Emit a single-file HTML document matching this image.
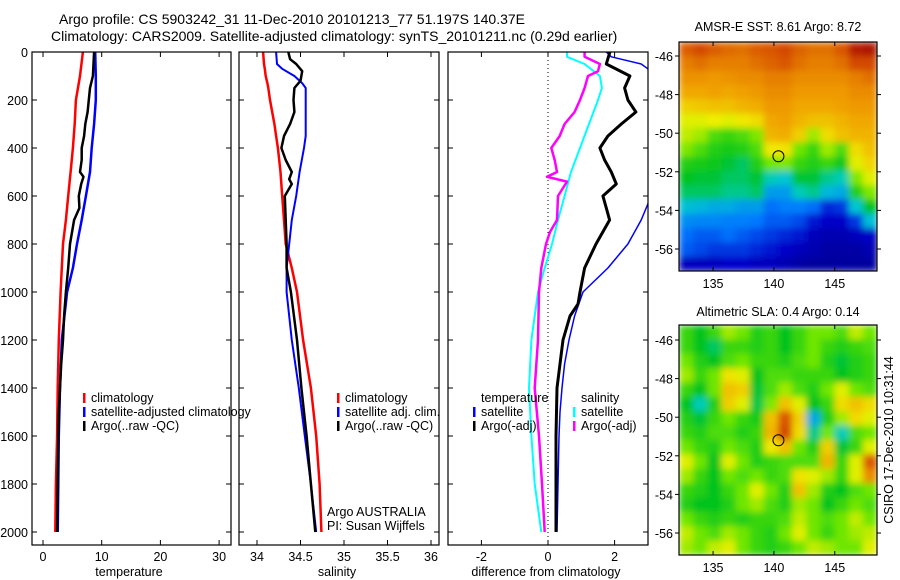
<!DOCTYPE html>
<html><head><meta charset="utf-8"><style>
body{margin:0;background:#fff;width:900px;height:580px;overflow:hidden}
svg{display:block;font-family:"Liberation Sans",sans-serif}
</style></head><body>
<svg id="fig" width="900" height="580" viewBox="0 0 900 580" xmlns="http://www.w3.org/2000/svg">
<defs>
<filter id="blur1" filterUnits="userSpaceOnUse" x="679" y="42" width="198" height="229"><feGaussianBlur stdDeviation="3.5" edgeMode="duplicate"/></filter>
<filter id="blur2" filterUnits="userSpaceOnUse" x="679" y="325" width="198" height="230"><feGaussianBlur stdDeviation="3.5" edgeMode="duplicate"/></filter>
<clipPath id="c1"><rect x="32" y="52" width="199" height="493"/></clipPath>
<clipPath id="c2"><rect x="239" y="52" width="200" height="493"/></clipPath>
<clipPath id="c3"><rect x="448" y="52" width="200" height="493"/></clipPath>
<clipPath id="m1"><rect x="679" y="42" width="198" height="229"/></clipPath>
<clipPath id="m2"><rect x="679" y="325" width="198" height="230"/></clipPath>
</defs>
<text x="59" y="24" font-size="14">Argo profile: CS 5903242_31 11-Dec-2010 20101213_77 51.197S 140.37E</text>
<text x="51" y="41" font-size="14">Climatology: CARS2009. Satellite-adjusted climatology: synTS_20101211.nc (0.29d earlier)</text>
<text x="778" y="31" font-size="12.5" text-anchor="middle">AMSR-E SST: 8.61  Argo: 8.72</text>
<text x="778" y="316" font-size="12.5" text-anchor="middle">Altimetric SLA: 0.4  Argo: 0.14</text>
<text transform="translate(893,440) rotate(-90)" font-size="12.5" text-anchor="middle">CSIRO 17-Dec-2010 10:31:44</text>
<g id="g"></g>
</svg>
<script>
// ---- profile data ----
const depthsT = [0,100,200,300,400,500,600,700,800,900,1000,1200,1400,1600,1800,2000];
const tempClim = [6.8,6.3,5.6,5.4,5.1,4.7,4.3,3.9,3.4,3.2,3.0,2.7,2.5,2.4,2.2,2.1];
const tempSat  = [8.9,9.0,9.0,8.7,8.3,8.0,7.3,6.6,5.8,5.1,4.1,3.2,2.9,2.7,2.6,2.5];
const depthsA = [0,50,100,150,200,250,300,350,400,450,500,520,550,600,650,700,800,900,1000,1100,1200,1300,1400,1500,1600,1800,2000];
const tempArgo = [8.7,8.6,8.5,8.0,7.8,7.6,7.2,7.0,6.6,6.6,6.3,6.9,6.5,6.1,6.2,5.3,4.6,4.3,3.9,3.6,3.4,3.1,2.9,2.7,2.6,2.5,2.4];
const depthsS = [0,50,70,100,130,150,200,300,350,400,500,600,700,800,900,1000,1200,1400,1600,1800,2000];
const salClim = [34.07,34.08,34.09,34.10,34.12,34.13,34.15,34.20,34.22,34.24,34.27,34.29,34.31,34.33,34.40,34.46,34.53,34.62,34.68,34.72,34.74];
const salSat  = [34.22,34.23,34.29,34.43,34.52,34.56,34.56,34.56,34.56,34.54,34.49,34.45,34.40,34.37,34.34,34.34,34.40,34.48,34.55,34.62,34.68];
const depthsSA = [0,30,50,80,120,150,200,250,300,350,400,450,500,530,550,600,700,800,900,1000,1200,1400,1600,1800,2000];
const salArgo = [34.36,34.38,34.45,34.52,34.50,34.43,34.42,34.43,34.38,34.31,34.28,34.33,34.40,34.37,34.40,34.32,34.33,34.34,34.34,34.39,34.46,34.51,34.57,34.62,34.67];
const depthsD = [0,20,50,70,100,200,300,400,500,600,700,800,900,1000,1100,1200,1300,1400,1500,1600,1800,2000];
const diffTSat = [1.75,1.9,2.8,3.0,3.6,4.0,4.2,4.2,4.0,3.1,2.8,2.4,1.8,1.05,0.8,0.63,0.5,0.42,0.36,0.33,0.3,0.27];
const depthsDA = [0,50,100,150,200,250,300,350,400,450,500,550,600,650,700,800,900,1000,1050,1100,1200,1400,1600,1800,2000];
const diffTArgo = [1.86,1.75,2.46,2.3,2.4,2.64,2.2,1.8,1.56,1.7,1.9,2.05,1.65,1.75,1.85,1.44,1.1,0.96,0.9,0.66,0.45,0.27,0.24,0.24,0.24];
const depthsDS = [0,20,50,100,150,200,300,400,500,600,700,800,900,1000,1200,1400,1600,1800,2000];
const diffSSat = [0.57,0.57,1.1,1.56,1.62,1.5,1.23,0.96,0.69,0.5,0.3,0.12,-0.1,-0.3,-0.5,-0.57,-0.5,-0.4,-0.2];
const depthsDM = [0,20,50,80,100,150,200,250,300,350,400,450,500,520,540,600,700,750,800,900,1000,1200,1400,1600,1800,2000];
const diffSArgo = [1.1,1.1,1.56,1.5,1.2,1.1,0.96,0.8,0.5,0.35,0.1,0.2,0.27,-0.03,0.57,0.3,0.27,0.06,-0.06,-0.2,-0.27,-0.3,-0.4,-0.27,-0.18,-0.1];
const depthTicks = [0,200,400,600,800,1000,1200,1400,1600,1800,2000];
const tempTicks = [0,10,20,30];
const salTicks = [34,34.5,35,35.5,36];
const salTickLabels = ["34","34.5","35","35.5","36"];
const diffTicks = [-2,0,2];
// ---- map data (colormap index 0..1) ----
const lonTicks = [135,140,145];
const latTicks = [-46,-48,-50,-52,-54,-56];
const argoLon = 140.37, argoLat = -51.197;
const sstGrid = [
[.85,.88,.85,.83,.82,.85,.86,.88,.84,.82,.82,.86,.95,.97],
[.80,.82,.80,.80,.80,.82,.84,.86,.82,.80,.80,.82,.88,.88],
[.77,.77,.76,.77,.78,.78,.80,.80,.78,.78,.78,.78,.80,.82],
[.74,.74,.75,.74,.75,.76,.78,.78,.76,.76,.76,.76,.78,.78],
[.68,.69,.70,.70,.72,.73,.76,.76,.74,.74,.74,.75,.76,.76],
[.62,.62,.63,.62,.64,.66,.74,.75,.72,.70,.70,.72,.74,.74],
[.60,.58,.52,.50,.52,.56,.72,.73,.68,.58,.66,.70,.72,.72],
[.56,.52,.48,.47,.48,.52,.64,.65,.55,.50,.58,.52,.66,.70],
[.48,.47,.46,.44,.42,.48,.55,.56,.50,.48,.50,.46,.62,.67],
[.45,.44,.44,.42,.42,.44,.38,.36,.44,.44,.40,.38,.56,.62],
[.42,.42,.42,.40,.40,.42,.30,.30,.38,.40,.34,.32,.48,.56],
[.35,.34,.32,.32,.30,.30,.24,.26,.26,.24,.16,.18,.36,.45],
[.28,.27,.27,.26,.26,.25,.22,.22,.20,.14,.12,.12,.18,.35],
[.24,.22,.22,.24,.22,.20,.18,.16,.14,.10,.08,.08,.10,.12],
[.22,.20,.18,.18,.18,.16,.14,.12,.10,.08,.06,.06,.06,.08],
[.10,.10,.10,.12,.12,.10,.10,.08,.06,.05,.05,.05,.05,.05]];
const slaGrid = [
[.50,.45,.50,.58,.55,.48,.50,.45,.50,.55,.55,.52,.60,.55],
[.50,.45,.42,.50,.50,.48,.50,.45,.50,.55,.50,.48,.50,.52],
[.55,.48,.45,.52,.55,.50,.50,.48,.52,.55,.48,.44,.48,.50],
[.58,.50,.55,.65,.62,.45,.52,.52,.50,.50,.50,.45,.48,.50],
[.50,.45,.55,.70,.68,.44,.52,.58,.52,.48,.55,.62,.55,.52],
[.45,.38,.48,.68,.62,.43,.56,.70,.62,.45,.50,.66,.70,.66],
[.48,.44,.50,.55,.50,.47,.70,.86,.68,.32,.48,.58,.66,.62],
[.50,.48,.52,.52,.48,.50,.72,.88,.66,.40,.55,.38,.52,.55],
[.55,.50,.48,.55,.52,.48,.64,.70,.55,.48,.68,.44,.50,.62],
[.62,.55,.45,.62,.55,.48,.50,.52,.52,.52,.72,.50,.62,.86],
[.58,.50,.45,.55,.52,.55,.50,.52,.65,.62,.58,.50,.62,.78],
[.50,.48,.45,.50,.55,.62,.55,.48,.70,.58,.48,.45,.52,.55],
[.48,.45,.45,.48,.55,.58,.52,.48,.58,.55,.45,.50,.55,.52],
[.55,.50,.48,.50,.48,.50,.50,.52,.60,.55,.52,.55,.60,.55],
[.60,.55,.52,.58,.55,.50,.48,.55,.62,.55,.50,.55,.58,.60],
[.58,.55,.60,.62,.55,.50,.48,.50,.55,.60,.58,.55,.55,.62]];

const NS='http://www.w3.org/2000/svg';
const G=document.getElementById('g');
function mk(tag,attrs,parent){const e=document.createElementNS(NS,tag);for(const k in attrs)e.setAttribute(k,attrs[k]);(parent||G).appendChild(e);return e;}
const yD = d => 52 + d*0.24;
const xT = t => 43 + t*5.87;
const xS = s => 257 + (s-34)*87;
const xDf = v => 548 + v*33.3;
const xLon = l => 679 + (l-132.2)*12.17;
const yLat1 = l => 56 + (-46-l)*19.3;
const yLat2 = l => 340 + (-46-l)*19.3;

function line(xs,ds,xf,color,w,clip,name){
  const pts=xs.map((v,i)=>xf(v).toFixed(1)+','+yD(ds[i]).toFixed(1)).join(' ');
  const p=mk('polyline',{points:pts,fill:'none',stroke:color,'stroke-width':w,'clip-path':'url(#'+clip+')','stroke-linejoin':'round'});
  
  
}
function frame(x,y,w,h,name){
  const r=mk('rect',{x:x,y:y,width:w,height:h,fill:'none',stroke:'#000','stroke-width':1.2});
  
  
}
function txt(x,y,s,anchor,size,name){
  const t=mk('text',{x:x,y:y,'font-size':size||12,'text-anchor':anchor||'start'});t.textContent=s;
  
  
  return t;
}
function xTicks(vals,labels,xf,x0,x1,name){
  vals.forEach((v,i)=>{const x=xf(v);
    mk('line',{x1:x,x2:x,y1:545,y2:540,stroke:'#000'});
    mk('line',{x1:x,x2:x,y1:52,y2:57,stroke:'#000'});
    txt(x,561,labels[i],'middle',12.5,name+'-tick-label');
  });
}
[[32,199],[239,200],[448,200]].forEach(p=>{
  depthTicks.forEach(d=>{const y=yD(d);
    mk('line',{x1:p[0],x2:p[0]+5,y1:y,y2:y,stroke:'#000'});
    mk('line',{x1:p[0]+p[1],x2:p[0]+p[1]-5,y1:y,y2:y,stroke:'#000'});
  });
});
depthTicks.forEach(d=>txt(28,yD(d)+5,String(d),'end',12.5,'depth-tick-label'));
xTicks(tempTicks,tempTicks.map(String),xT,32,231,'temperature');
xTicks(salTicks,salTickLabels,xS,239,439,'salinity');
xTicks(diffTicks,diffTicks.map(String),xDf,448,648,'difference');
txt(129,576,'temperature','middle',12.5,'temperature-axis-title');
txt(337,576,'salinity','middle',12.5,'salinity-axis-title');
txt(546,576,'difference from climatology','middle',12.5,'difference-axis-title');
const zl=mk('line',{x1:xDf(0),x2:xDf(0),y1:52,y2:545,stroke:'#000','stroke-dasharray':'1,3','stroke-width':1});


line(tempClim,depthsT,xT,'#f00',2.5,'c1','temperature-climatology-line');
line(tempSat,depthsT,xT,'#00f',2.5,'c1','temperature-satellite-line');
line(tempArgo,depthsA,xT,'#000',2.5,'c1','temperature-argo-line');
line(salClim,depthsS,xS,'#f00',2.5,'c2','salinity-climatology-line');
line(salSat,depthsS,xS,'#00f',2,'c2','salinity-satellite-line');
line(salArgo,depthsSA,xS,'#000',2.5,'c2','salinity-argo-line');
line(diffTSat,depthsD,xDf,'#00f',1.5,'c3','temp-diff-satellite-line');
line(diffTArgo,depthsDA,xDf,'#000',3,'c3','temp-diff-argo-line');
line(diffSSat,depthsDS,xDf,'#0ff',2,'c3','sal-diff-satellite-line');
line(diffSArgo,depthsDM,xDf,'#f0f',2.5,'c3','sal-diff-argo-line');
frame(32,52,199,493,'temperature-axes');
frame(239,52,200,493,'salinity-axes');
frame(448,52,200,493,'difference-axes');
function leg(x,y,color,label,name){
  const r=mk('rect',{x:x,y:y-9,width:2.5,height:10,fill:color});
  
  
  txt(x+8,y,label,'start',12.5,name+'-label');
}
leg(83,402,'#f00','climatology','legend-temp-climatology');
leg(83,416,'#00f','satellite-adjusted climatology','legend-temp-satellite');
leg(83,430,'#000','Argo(..raw -QC)','legend-temp-argo');
leg(337,402,'#f00','climatology','legend-sal-climatology');
leg(337,416,'#00f','satellite adj. clim.','legend-sal-satellite');
leg(337,430,'#000','Argo(..raw -QC)','legend-sal-argo');
txt(327,516,'Argo AUSTRALIA','start',12.5,'argo-country-label');
txt(327,530,'PI: Susan Wijffels','start',12.5,'pi-name-label');
txt(481,402,'temperature','start',12.5,'legend-temperature-heading');
leg(473,416,'#00f','satellite','legend-diff-temp-satellite');
leg(473,430,'#000','Argo(-adj)','legend-diff-temp-argo');
txt(581,402,'salinity','start',12.5,'legend-salinity-heading');
leg(573,416,'#0ff','satellite','legend-diff-sal-satellite');
leg(573,430,'#f0f','Argo(-adj)','legend-diff-sal-argo');
// colormap
const cmStops=[[0,0,0,130],[0.12,0,0,200],[0.25,0,120,255],[0.37,0,205,205],[0.45,0,195,30],[0.55,110,230,0],[0.63,240,240,0],[0.75,240,160,0],[0.87,215,80,0],[1,160,0,0]];
function cmap(v){v=Math.max(0,Math.min(1,v));
  for(let i=1;i<cmStops.length;i++){const a=cmStops[i-1],b=cmStops[i];
    if(v<=b[0]){const t=(v-a[0])/(b[0]-a[0]);
      return 'rgb('+[1,2,3].map(k=>Math.round(a[k]+(b[k]-a[k])*t)).join(',')+')';}}
  return 'rgb(160,0,0)';}
function map(grid,top,h,yl,filt,clip,name){
  const g=mk('g',{'clip-path':'url(#'+clip+')'});
  const g2=mk('g',{filter:'url(#'+filt+')'},g);
  
  
  const rows=grid.length, cols=grid[0].length, cw=198/cols, ch=h/rows;
  grid.forEach((row,i)=>row.forEach((v,j)=>{
    const c=mk('rect',{x:(679+j*cw).toFixed(2),y:(top+i*ch).toFixed(2),width:(cw+0.6).toFixed(2),height:(ch+0.6).toFixed(2),fill:cmap(v)},g2);
    
    
  }));
  const bottom=top+h;
  lonTicks.forEach(l=>{const x=xLon(l);
    mk('line',{x1:x,x2:x,y1:top,y2:top+4,stroke:'#000'});
    mk('line',{x1:x,x2:x,y1:bottom,y2:bottom-4,stroke:'#000'});
    txt(x,bottom+17,String(l),'middle',12.5,name+'-lon-tick-label');});
  latTicks.forEach(l=>{const y=yl(l);
    mk('line',{x1:877,x2:881,y1:y,y2:y,stroke:'#000'});
    mk('line',{x1:679,x2:675,y1:y,y2:y,stroke:'#000'});
    txt(673,y+5,String(l),'end',12.5,name+'-lat-tick-label');});
  frame(679,top,198,h,name+'-axes');
  const dot=mk('circle',{cx:xLon(argoLon),cy:yl(argoLat),r:5.5,fill:'none',stroke:'#000','stroke-width':1});
  
  
}
map(sstGrid,42,229,yLat1,'blur1','m1','sst-map');
map(slaGrid,325,230,yLat2,'blur2','m2','sla-map');
</script>
</body></html>
